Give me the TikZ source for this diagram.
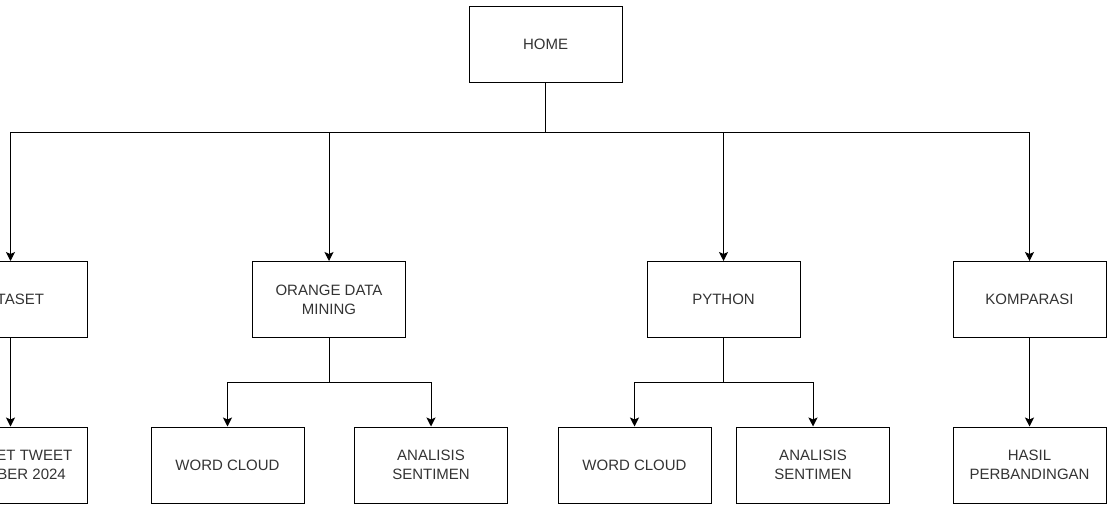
\documentclass[tikz,border=0pt]{standalone}
\usepackage{fontspec}
\setmainfont{Liberation Sans}
\usetikzlibrary{arrows.meta}

\tikzset{
  box/.style={draw, line width=1pt, minimum width=153pt, minimum height=76pt,
    align=center, text=black!80, font=\fontsize{15}{19}\selectfont},
  link/.style={line width=1pt, -{Stealth[length=9pt, width=9pt, inset=2pt]}},
}

\begin{document}
\begin{tikzpicture}[x=1pt, y=-1pt]
    \useasboundingbox (0,0) rectangle (1107,505);
    \clip (0,0) rectangle (1107,505);

    % menu utama
    \node[box] (home) at (545.5,44.5) {HOME};

    % level 1
    \node[box] (dataset) at (10.5,299.5) {DATASET};
    \node[box] (orange) at (329,299.5) {ORANGE DATA\\ MINING};
    \node[box] (python) at (723.5,299.5) {PYTHON};
    \node[box] (komparasi) at (1029.5,299.5) {KOMPARASI};

    % level 2
    \node[box] (tweet) at (10.5,465) {DATASET TWEET\\ OKTOBER 2024};
    \node[box] (orangewc) at (227.5,465) {WORD CLOUD};
    \node[box] (orangeas) at (431,465) {ANALISIS\\ SENTIMEN};
    \node[box] (pythonwc) at (634.5,465) {WORD CLOUD};
    \node[box] (pythonas) at (813,465) {ANALISIS\\ SENTIMEN};
    \node[box] (hasil) at (1029.5,465) {HASIL\\ PERBANDINGAN};

    \coordinate (homebus) at (545.5,133);
    \coordinate (orangebus) at (329,382);
    \coordinate (pythonbus) at (723.5,382);

    \draw[link] (home.south) -- (homebus) -| (dataset.north);
    \draw[link] (home.south) -- (homebus) -| (orange.north);
    \draw[link] (home.south) -- (homebus) -| (python.north);
    \draw[link] (home.south) -- (homebus) -| (komparasi.north);

    \draw[link] (dataset.south) -- (tweet.north);
    \draw[link] (orange.south) -- (orangebus) -| (orangewc.north);
    \draw[link] (orange.south) -- (orangebus) -| (orangeas.north);
    \draw[link] (python.south) -- (pythonbus) -| (pythonwc.north);
    \draw[link] (python.south) -- (pythonbus) -| (pythonas.north);
    \draw[link] (komparasi.south) -- (hasil.north);
  \end{tikzpicture}
\end{document}
